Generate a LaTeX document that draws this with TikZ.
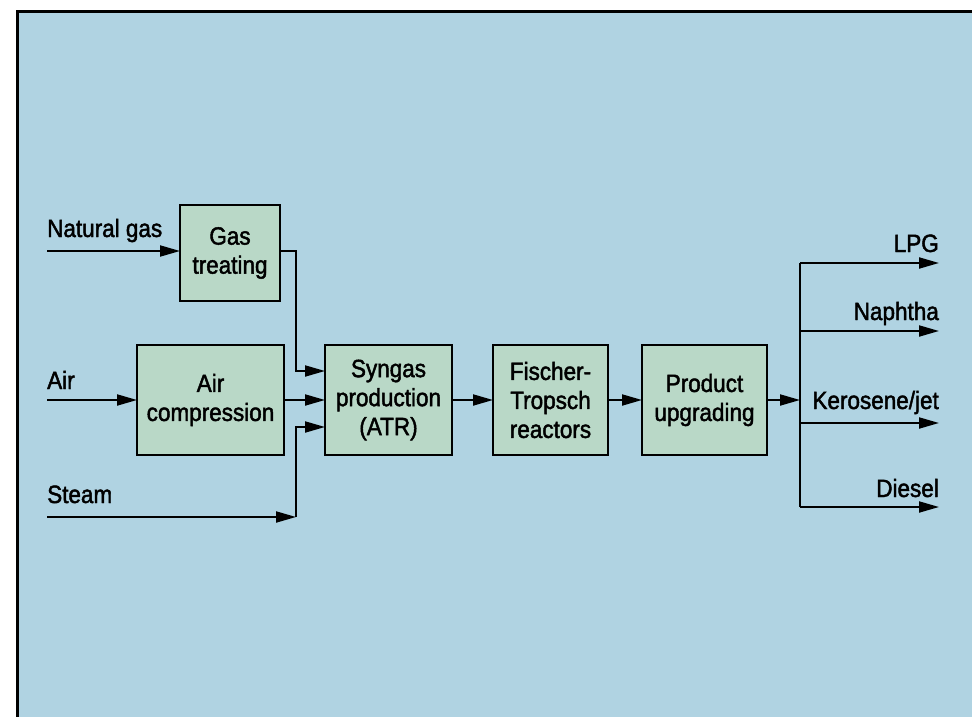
\documentclass[tikz,border=0pt]{standalone}
\usepackage{fontspec}
\setmainfont[FakeBold=1.8, FakeStretch=0.9]{Liberation Sans}
\usetikzlibrary{arrows.meta}
\definecolor{panel}{RGB}{176,211,226}
\definecolor{unitfill}{RGB}{185,216,199}
\begin{document}
\begin{tikzpicture}[x=1bp,y=-1bp,
  unit/.style={draw=black, line width=2bp, fill=unitfill, inner sep=0pt, outer sep=0pt,
    align=center, font=\fontsize{25bp}{29bp}\selectfont},
  flow/.style={line width=2bp, -{Triangle[length=20bp,width=11bp]}},
  pipe/.style={line width=2bp},
  tag/.style={inner sep=0pt, font=\fontsize{25bp}{29bp}\selectfont}]
\useasboundingbox (0,0) rectangle (972,717);
\fill[white] (0,0) rectangle (972,717);
\fill[panel] (17,11) rectangle (972,717);
\draw[line width=3bp] (17.5,717) -- (17.5,11.5) -- (972,11.5);

% process units
\node[unit, minimum width=100bp, minimum height=96bp] (gas) at (230,253) {Gas\\treating};
\node[unit, minimum width=147bp, minimum height=110bp] (comp) at (210.5,400) {Air\\compression};
\node[unit, minimum width=127bp, minimum height=110bp] (syn) at (388.5,400) {Syngas\\production\\(ATR)};
\node[unit, minimum width=115bp, minimum height=110bp] (ft) at (550.5,400) {Fischer-\\Tropsch\\reactors};
\node[unit, minimum width=125bp, minimum height=110bp] (pu) at (704.5,400) {Product\\upgrading};

% feed streams
\coordinate (ngin) at (47,251);
\coordinate (airin) at (47,400);
\coordinate (steamin) at (47,517);
\coordinate (steamjoin) at (296,517);
\node[tag, anchor=base west] (nglabel) at (47,237) {Natural gas};
\node[tag, anchor=base west] (airlabel) at (47,389) {Air};
\node[tag, anchor=base west] (steamlabel) at (47,503) {Steam};

\draw[flow] (ngin) -- (gas.west |- ngin);
\draw[flow] (airin) -- (comp.west |- airin);
\draw[flow] (steamin) -- (steamjoin);
\draw[flow] (steamjoin) -- (296,427) -- (syn.west |- 0,427);
\draw[flow] (gas.east |- 0,251) -- (296,251) -- (296,371) -- (syn.west |- 0,371);
\draw[flow] (comp.east) -- (syn.west);
\draw[flow] (syn.east) -- (ft.west);
\draw[flow] (ft.east) -- (pu.west);

% product distribution
\coordinate (bus) at (800,400);
\coordinate (bustop) at (800,263);
\coordinate (busbot) at (800,507);
\draw[flow] (pu.east) -- (bus);
\draw[pipe] (bustop) -- (busbot);
\coordinate (lpg) at (939,263);
\coordinate (naph) at (939,331);
\coordinate (kero) at (939,423);
\coordinate (dies) at (939,507);
\draw[flow] (bustop) -- (lpg);
\draw[flow] (800,331) -- (naph);
\draw[flow] (800,423) -- (kero);
\draw[flow] (busbot) -- (dies);
\node[tag, anchor=base east] (lpglabel) at (939,252) {LPG};
\node[tag, anchor=base east] (naphlabel) at (939,320) {Naphtha};
\node[tag, anchor=base east] (kerolabel) at (939,409) {Kerosene/jet};
\node[tag, anchor=base east] (dieslabel) at (939,497) {Diesel};
\end{tikzpicture}
\end{document}
